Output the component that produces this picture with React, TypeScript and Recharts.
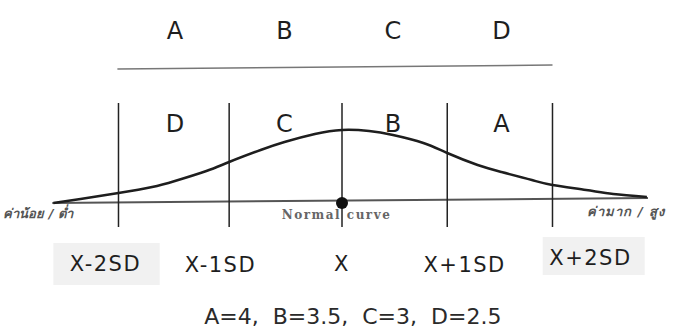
import { LineChart, Line, XAxis, YAxis, ReferenceLine, ReferenceDot, ReferenceArea } from 'recharts'

// curve: position along the axis (about SD units) and height above the baseline
const curveZ = [-2.66, -2.41, -2.06, -1.75, -1.54, -1.25, -1.04, -0.75, -0.53, -0.25, 0, 0.25, 0.47, 0.75, 0.97, 1.25, 1.47, 1.75, 1.94, 2.25, 2.5, 2.81]
const curveH = [-1, 3, 9, 15, 21, 31, 40, 52, 60, 68, 72, 71, 67, 59, 49, 37, 30, 22, 17, 12, 8, 5]

// where the SD boundary lines sit in the drawing
const sdLines = [-2.06, -1.04, 0, 0.97, 1.94]
const bandCenters = [-1.54, -0.53, 0.47, 1.47]
const topGrades = ['A', 'B', 'C', 'D']
const curveGrades = ['D', 'C', 'B', 'A']
const sdLabels = ['X-2SD', 'X-1SD', 'X', 'X+1SD', 'X+2SD']
const caption = 'A=4,\u00a0 B=3.5,\u00a0 C=3,\u00a0 D=2.5'
const lowLabel = 'ค่าน้อย / ต่ำ'
const highLabel = 'ค่ามาก / สูง'
const axisLabel = 'Normal curve'

const data = curveZ.map((z, i) => ({ z, h: curveH[i] }))

// layout (y in the same units as the curve, 1 unit ~ 1px)
const sdLabelZ = [-2.18, -1.12, 0, 1.13, 2.29]
const sdLabelY = [-62, -63, -62, -63, -56]
const FONT = '"DejaVu Sans", sans-serif'
const INK = '#1e1e1e'

function tag(key: string, x: number, y: number, value: string, style: any) {
  return (
    <ReferenceDot
      key={key}
      x={x}
      y={y}
      r={0}
      fill="none"
      stroke="none"
      label={{ value, position: 'center', fill: INK, fontFamily: FONT, ...style }}
    />
  )
}

export default function App() {
  return (
    <div style={{ position: 'absolute', left: 0, top: 0, width: 685, height: 329, background: '#fff' }}>
      <LineChart width={685} height={329} data={data} margin={{ top: 0, right: 17.5, bottom: 0, left: 16.5 }}>
        <XAxis dataKey="z" type="number" domain={[-3, 3]} hide allowDataOverflow />
        <YAxis type="number" domain={[-127, 202]} hide allowDataOverflow />

        {/* light boxes behind the outer labels */}
        <ReferenceArea x1={-2.66} x2={-1.68} y1={-83} y2={-41} fill="#f1f1f1" fillOpacity={1} stroke="none" />
        <ReferenceArea x1={1.85} x2={2.79} y1={-73} y2={-35} fill="#f1f1f1" fillOpacity={1} stroke="none" />

        <ReferenceLine segment={[{ x: -2.07, y: 133 }, { x: 1.94, y: 137 }]} stroke="#777" strokeWidth={1.5} />
        <ReferenceLine segment={[{ x: -2.67, y: -1 }, { x: 2.82, y: 4 }]} stroke="#555" strokeWidth={2} />
        {sdLines.map((z) => (
          <ReferenceLine key={z} segment={[{ x: z, y: -25 }, { x: z, y: 99 }]} stroke="#222" strokeWidth={1.5} />
        ))}

        <Line dataKey="h" type="natural" stroke={INK} strokeWidth={2.5} dot={false} isAnimationActive={false} />

        <ReferenceDot x={0} y={-1} r={6} fill="#111" stroke="none" />

        {topGrades.map((g, i) => tag('t' + i, bandCenters[i], 172, g, { fontSize: 24 }))}
        {curveGrades.map((g, i) => tag('c' + i, bandCenters[i], 79, g, { fontSize: 24 }))}
        {sdLabels.map((s, i) => tag('s' + i, sdLabelZ[i], sdLabelY[i], s, { fontSize: 21, letterSpacing: 1.5 }))}
        {tag('cap', 0.1, -114, caption, { fontSize: 22, fill: '#2a2a2a' })}
        {tag('axis', -0.05, -13, axisLabel, { fontSize: 12, fontWeight: 'bold', fontFamily: '"DejaVu Serif", serif', fill: '#666', letterSpacing: 1.5 })}
        {tag('low', -2.8, -11, lowLabel, { fontSize: 13, fontWeight: 'bold', fontStyle: 'italic', fill: '#555' })}
        {tag('high', 2.62, -9, highLabel, { fontSize: 13, fontWeight: 'bold', fontStyle: 'italic', fill: '#555', letterSpacing: 1 })}
      </LineChart>
    </div>
  )
}
